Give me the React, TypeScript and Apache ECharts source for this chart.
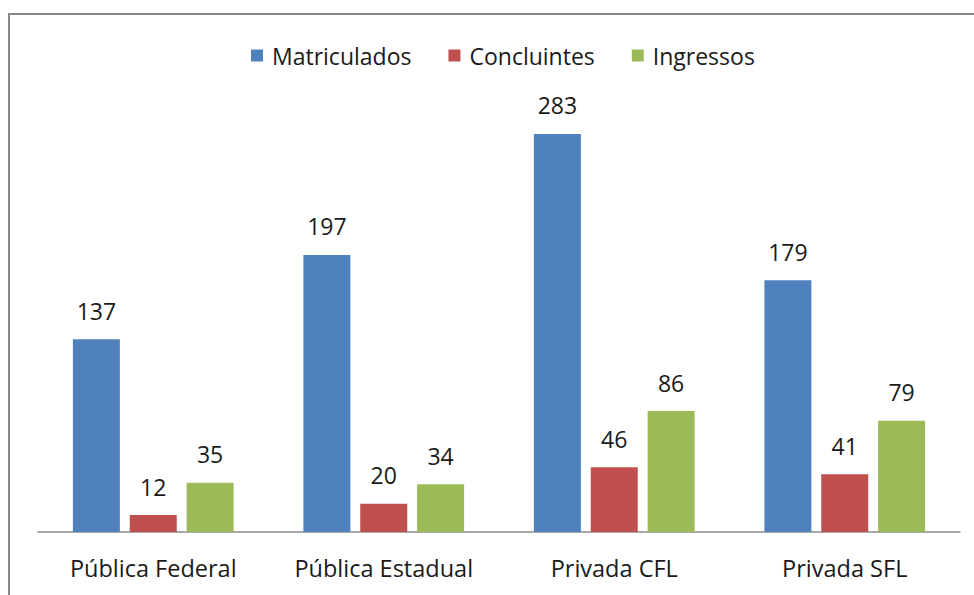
import React, { useEffect, useRef } from "react";
import * as echarts from "echarts";

const categories = ["Pública Federal", "Pública Estadual", "Privada CFL", "Privada SFL"];
const matriculados = [137, 197, 283, 179];
const concluintes = [12, 20, 46, 41];
const ingressos = [35, 34, 86, 79];

const FONT = "Open Sans";

export default function App() {
  const ref = useRef<HTMLDivElement>(null);
  useEffect(() => {
    if (!ref.current) return;
    const chart = echarts.init(ref.current, undefined, { renderer: "svg" });
    const label = {
      show: true,
      position: "top" as const,
      distance: 17,
      fontSize: 23,
      fontFamily: FONT,
      color: "#1a1a1a",
    };
    chart.setOption({
      animation: false,
      backgroundColor: "#ffffff",
      graphic: [
        {
          type: "rect",
          shape: { x: 9, y: 14, width: 1100, height: 1000 },
          style: { fill: "none", stroke: "#878787", lineWidth: 2 },
          silent: true,
        },
      ],
      legend: {
        top: 39,
        left: 246,
        icon: "rect",
        itemWidth: 12,
        itemHeight: 12,
        itemGap: 37,
        textStyle: { fontSize: 23, fontFamily: FONT, color: "#1a1a1a", padding: [0, 0, 0, 4] },
        data: ["Matriculados", "Concluintes", "Ingressos"],
      },
      grid: { left: 38, right: 14, top: 110, bottom: 63, containLabel: false },
      xAxis: {
        type: "category",
        data: categories,
        axisTick: { show: false },
        axisLine: { lineStyle: { color: "#8c8c8c", width: 1.5 } },
        axisLabel: { fontSize: 23.5, fontFamily: FONT, color: "#1a1a1a", margin: 24, interval: 0 },
      },
      yAxis: {
        type: "value",
        min: 0,
        max: 300,
        show: false,
        splitLine: { show: false },
      },
      series: [
        { name: "Matriculados", type: "bar", data: matriculados, barWidth: 47, barGap: "21%", itemStyle: { color: "#4F81BD" }, label },
        { name: "Concluintes", type: "bar", data: concluintes, barWidth: 47, barGap: "21%", itemStyle: { color: "#C0504D" }, label },
        { name: "Ingressos", type: "bar", data: ingressos, barWidth: 47, barGap: "21%", itemStyle: { color: "#9BBB59" }, label },
      ],
    });
    return () => chart.dispose();
  }, []);
  return <div ref={ref} style={{ position: "fixed", left: 0, top: 0, width: 974, height: 595 }} />;
}
